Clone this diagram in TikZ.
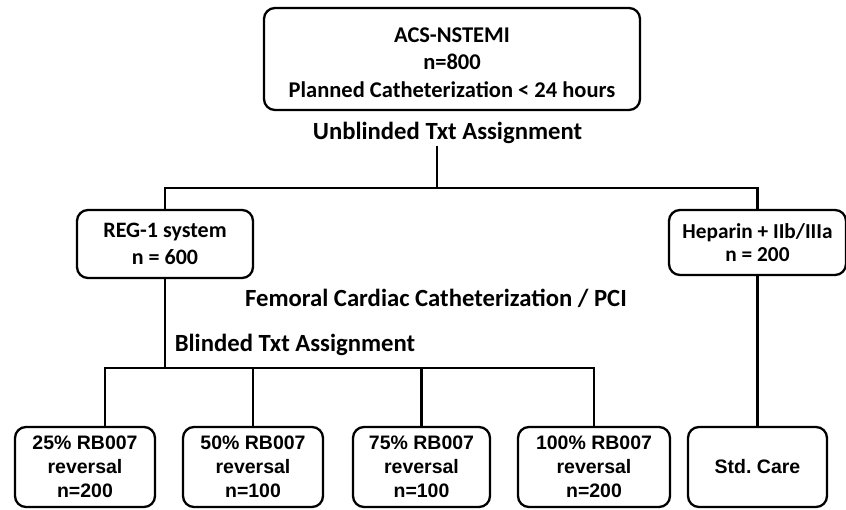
\documentclass[tikz,border=0pt]{standalone}
\usepackage{fontspec}
\setmainfont{Carlito}
\newfontfamily\arialf{Liberation Sans}
\begin{document}
\begin{tikzpicture}[x=1pt,y=-1pt,
  box/.style={draw, line width=2.3pt, rounded corners=11pt, align=center, inner sep=0pt, fill=white},
  calbig/.style={font=\fontsize{22.5}{27.5}\selectfont\bfseries, align=center},
  cal/.style={font=\fontsize{22}{27}\selectfont\bfseries},
  calt/.style={font=\fontsize{21.3}{22.5}\selectfont\bfseries},
  ar/.style={font=\arialf\fontsize{19.5}{24}\selectfont\bfseries},
  lbl/.style={font=\fontsize{24.7}{28}\selectfont\bfseries, inner sep=2pt},
  conn/.style={line width=2.3pt}]
\useasboundingbox (0,0) rectangle (846,509);
\fill[white] (0,0) rectangle (846,509);
% nodes
\node[box,minimum width=376pt,minimum height=102pt] (topbox) at (452,59) {};
\node[calbig] (top) at (452,62.5) {ACS-NSTEMI\\n=800\\Planned Catheterization < 24 hours};
\node[lbl] (unb) at (447.5,133) {Unblinded Txt Assignment};
\coordinate (j1) at (437,188);
\node[box,cal,minimum width=176pt,minimum height=68pt] (reg) at (165,244) {REG-1 system\\n = 600};
\node[box,calt,minimum width=177pt,minimum height=65pt] (hep) at (757.5,242.5) {Heparin + IIb/IIIa\\n = 200};
\node[lbl] (fem) at (436,298) {Femoral Cardiac Catheterization / PCI};
\node[lbl] (bli) at (295,345) {Blinded Txt Assignment};
\coordinate (j2) at (105,368);
\node[box,ar,minimum width=140pt,minimum height=80pt] (b1) at (85,467) {25\% RB007\\reversal\\n=200};
\node[box,ar,minimum width=140pt,minimum height=80pt] (b2) at (253,467) {50\% RB007\\reversal\\n=100};
\node[box,ar,minimum width=137pt,minimum height=80pt] (b3) at (421.5,467) {75\% RB007\\reversal\\n=100};
\node[box,ar,minimum width=152pt,minimum height=80pt] (b4) at (594,467) {100\% RB007\\reversal\\n=200};
\node[box,ar,minimum width=139pt,minimum height=80pt] (std) at (757.5,467) {Std.\ Care};
% connectors
\draw[conn] (j1 |- unb.south) -- (j1);
\draw[conn] (reg.north) -- (reg.north |- j1) -- (hep.north |- j1) -- (hep.north);
\draw[conn] (reg.south) -- (reg.south |- j2);
\draw[conn] (j2 |- b1.north) -- (j2) -- (b4.north |- j2) -- (b4.north);
\draw[conn] (b2.north) -- (b2.north |- j2);
\draw[conn] (b3.north) -- (b3.north |- j2);
\draw[conn] (hep.south) -- (std.north);
\end{tikzpicture}
\end{document}
